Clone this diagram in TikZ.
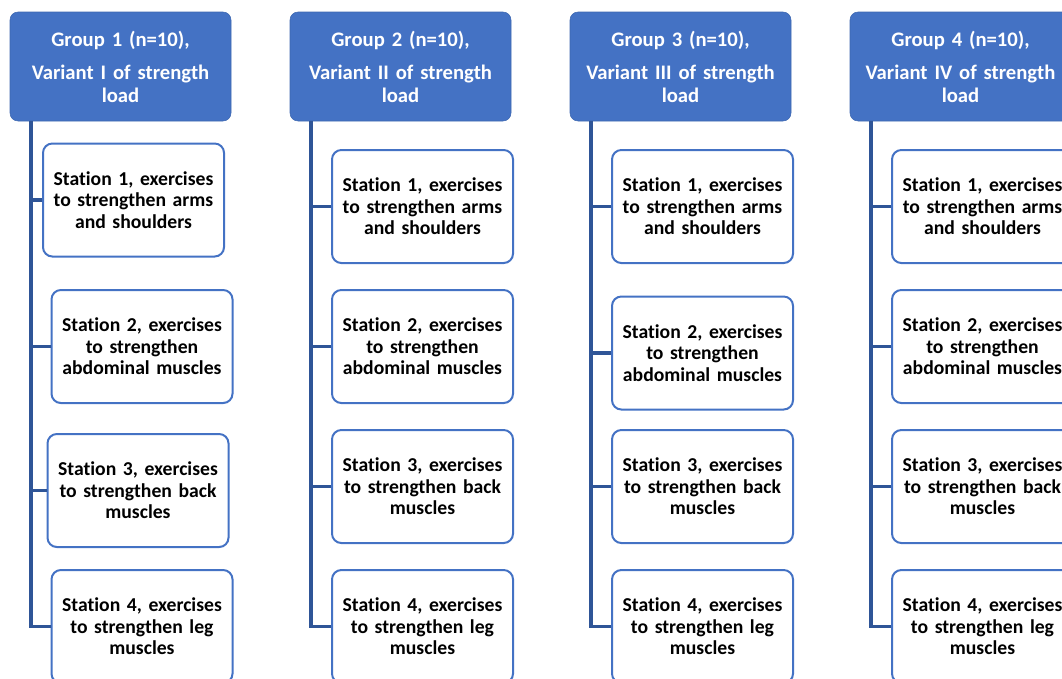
\documentclass[tikz,border=0pt]{standalone}
\usepackage{fontspec}
\setmainfont[Ligatures=NoCommon]{Carlito}
\usepackage{tikz}
\usetikzlibrary{positioning}
\definecolor{groupblue}{HTML}{4472C4}
\definecolor{lineblue}{HTML}{2F5597}
\tikzstyle{groupBox} = [rectangle, rounded corners=6pt, fill=groupblue, draw=groupblue!90!black, text=white, text centered, text width=162pt, minimum width=165.75pt, minimum height=81.75pt, inner sep=0pt, font=\fontsize{15.5}{17.25}\selectfont\bfseries]
\tikzstyle{stationBox} = [rectangle, rounded corners=7pt, draw=groupblue, line width=1.5pt, fill=white, text centered, text width=132pt, minimum width=135.75pt, minimum height=84.75pt, inner sep=0pt, font=\fontsize{14.75}{16.1}\selectfont\bfseries]
\tikzstyle{link} = [draw=lineblue, line width=2.4pt]

\begin{document}
\begin{tikzpicture}[x=0.75pt,y=-0.75pt]
		\clip (0,0) rectangle (1062,678);
		\useasboundingbox (0,0) rectangle (1062,678);
		% group headers
		\node [groupBox](g1) at (120.5,66.5){Group 1 (n=10),\\[7.5pt] Variant I of strength\\ load};
		\node [groupBox](g2) at (400.5,66.5){Group 2 (n=10),\\[7.5pt] Variant II of strength\\ load};
		\node [groupBox](g3) at (680.5,66.5){Group 3 (n=10),\\[7.5pt] Variant III of strength\\ load};
		\node [groupBox](g4) at (960.5,66.5){Group 4 (n=10),\\[7.5pt] Variant IV of strength\\ load};
		\coordinate (t1) at (31,121);
		\coordinate (t2) at (311,121);
		\coordinate (t3) at (591,121);
		\coordinate (t4) at (871,121);
		
		% group 1
		\node [stationBox](s11) at (133.5,200){Station 1, exercises\\ to strengthen arms\\ and shoulders};
		\node [stationBox](s12) at (142,346.5){Station 2, exercises\\ to strengthen\\ abdominal muscles};
		\node [stationBox](s13) at (138,490.5){Station 3, exercises\\ to strengthen back\\ muscles};
		\node [stationBox](s14) at (142,626.5){Station 4, exercises\\ to strengthen leg\\ muscles};
		% group 2
		\node [stationBox](s21) at (422.5,206.5){Station 1, exercises\\ to strengthen arms\\ and shoulders};
		\node [stationBox](s22) at (422.5,346.5){Station 2, exercises\\ to strengthen\\ abdominal muscles};
		\node [stationBox](s23) at (422.5,486.5){Station 3, exercises\\ to strengthen back\\ muscles};
		\node [stationBox](s24) at (422.5,626.5){Station 4, exercises\\ to strengthen leg\\ muscles};
		% group 3
		\node [stationBox](s31) at (702.5,206.5){Station 1, exercises\\ to strengthen arms\\ and shoulders};
		\node [stationBox](s32) at (702.5,353){Station 2, exercises\\ to strengthen\\ abdominal muscles};
		\node [stationBox](s33) at (702.5,486.5){Station 3, exercises\\ to strengthen back\\ muscles};
		\node [stationBox](s34) at (702.5,626.5){Station 4, exercises\\ to strengthen leg\\ muscles};
		% group 4
		\node [stationBox](s41) at (982.5,206.5){Station 1, exercises\\ to strengthen arms\\ and shoulders};
		\node [stationBox](s42) at (982.5,346.5){Station 2, exercises\\ to strengthen\\ abdominal muscles};
		\node [stationBox](s43) at (982.5,486.5){Station 3, exercises\\ to strengthen back\\ muscles};
		\node [stationBox](s44) at (982.5,626.5){Station 4, exercises\\ to strengthen leg\\ muscles};
		
		% connectors
		\draw [link] (t1) |- (s11.west);
		\draw [link] (t1) |- (s12.west);
		\draw [link] (t1) |- (s13.west);
		\draw [link] (t1) |- (s14.west);
		\draw [link] (t2) |- (s21.west);
		\draw [link] (t2) |- (s22.west);
		\draw [link] (t2) |- (s23.west);
		\draw [link] (t2) |- (s24.west);
		\draw [link] (t3) |- (s31.west);
		\draw [link] (t3) |- (s32.west);
		\draw [link] (t3) |- (s33.west);
		\draw [link] (t3) |- (s34.west);
		\draw [link] (t4) |- (s41.west);
		\draw [link] (t4) |- (s42.west);
		\draw [link] (t4) |- (s43.west);
		\draw [link] (t4) |- (s44.west);
		
		\end{tikzpicture}
\end{document}
